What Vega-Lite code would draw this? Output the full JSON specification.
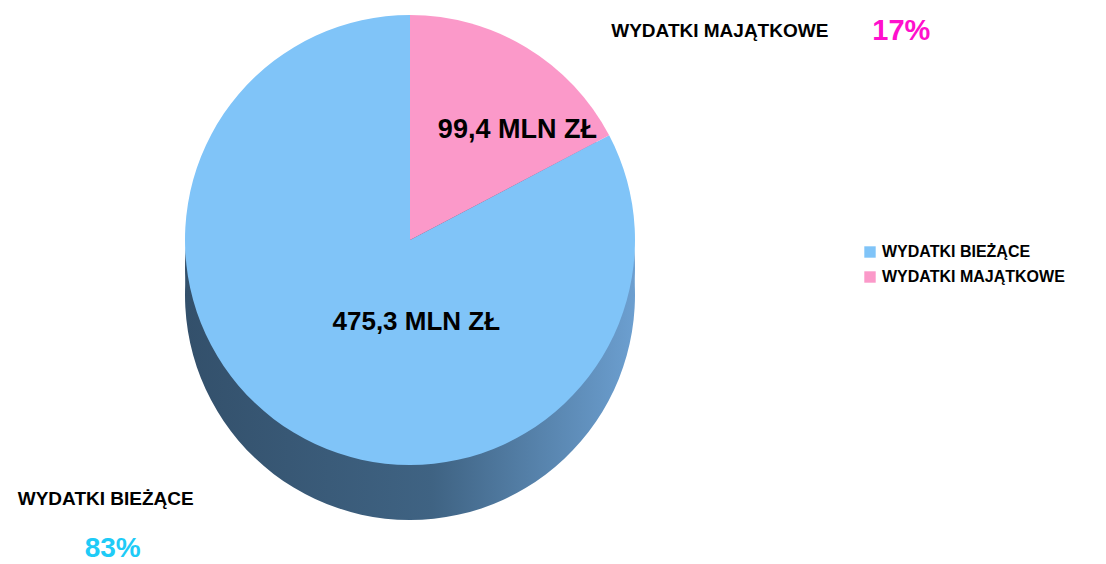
{
  "$schema": "https://vega.github.io/schema/vega-lite/v6.json",
  "width": 820,
  "height": 480,
  "padding": 0,
  "autosize": {"type": "pad"},
  "background": "white",
  "config": {"view": {"stroke": null}, "font": "Liberation Sans"},
  "data": {
    "values": [
      {"kategoria": "WYDATKI BIEŻĄCE", "wartosc": 475.3, "udzial": 0.83},
      {"kategoria": "WYDATKI MAJĄTKOWE", "wartosc": 99.4, "udzial": 0.17}
    ]
  },
  "transform": [
    {"calculate": "replace(format(datum.wartosc, '.1f'), '.', ',') + ' MLN ZŁ'", "as": "etykieta"},
    {"calculate": "datum.kategoria == 'WYDATKI MAJĄTKOWE' ? datum.kategoria : ''", "as": "nazwaM"},
    {"calculate": "datum.kategoria == 'WYDATKI BIEŻĄCE' ? datum.kategoria : ''", "as": "nazwaB"},
    {"calculate": "datum.kategoria == 'WYDATKI MAJĄTKOWE' ? format(datum.udzial, '.0%') : ''", "as": "procM"},
    {"calculate": "datum.kategoria == 'WYDATKI BIEŻĄCE' ? format(datum.udzial, '.0%') : ''", "as": "procB"},
    {"calculate": "datum.kategoria == 'WYDATKI MAJĄTKOWE' ? datum.etykieta : ''", "as": "etyM"},
    {"calculate": "datum.kategoria == 'WYDATKI BIEŻĄCE' ? datum.etykieta : ''", "as": "etyB"}
  ],
  "encoding": {
    "theta": {"field": "wartosc", "type": "quantitative", "stack": true},
    "order": {"field": "wartosc", "sort": "ascending"}
  },
  "layer": [
    {
      "mark": {"type": "arc", "outerRadius": 225, "yOffset": 55,
        "color": {"gradient": "linear", "x1": 0, "y1": 0, "x2": 1, "y2": 0,
          "stops": [{"offset": 0, "color": "#33506b"}, {"offset": 0.55, "color": "#3f6383"}, {"offset": 1, "color": "#6c9fd0"}]}}
    },
    {
      "mark": {"type": "arc", "outerRadius": 225, "yOffset": 28,
        "color": {"gradient": "linear", "x1": 0, "y1": 0, "x2": 1, "y2": 0,
          "stops": [{"offset": 0, "color": "#33506b"}, {"offset": 0.55, "color": "#3f6383"}, {"offset": 1, "color": "#6c9fd0"}]}}
    },
    {
      "mark": {"type": "arc", "outerRadius": 225, "strokeWidth": 0},
      "encoding": {
        "color": {
          "field": "kategoria", "type": "nominal",
          "scale": {"domain": ["WYDATKI BIEŻĄCE", "WYDATKI MAJĄTKOWE"], "range": ["#80c4f8", "#fb99c9"]},
          "legend": {"orient": "none", "legendX": 862, "legendY": 244, "title": null,
            "symbolType": "square", "symbolSize": 130, "symbolStrokeWidth": 0,
            "labelFont": "Liberation Sans", "labelFontWeight": "bold", "labelFontSize": 16,
            "labelColor": "#000000", "rowPadding": 9, "labelOffset": 4, "labelLimit": 400}
        }
      }
    },
    {
      "mark": {"type": "text", "radius": 140, "dx": 35, "dy": 10, "fontSize": 27, "fontWeight": "bold", "color": "#000000", "baseline": "middle", "align": "center"},
      "encoding": {"text": {"field": "etyM"}}
    },
    {
      "mark": {"type": "text", "radius": 100, "dx": 58, "dy": -4, "fontSize": 26, "fontWeight": "bold", "color": "#000000", "baseline": "middle", "align": "center"},
      "encoding": {"text": {"field": "etyB"}}
    },
    {
      "mark": {"type": "text", "radius": 250, "dx": 72, "dy": 5, "fontSize": 19, "fontWeight": "bold", "color": "#000000", "baseline": "middle", "align": "left"},
      "encoding": {"text": {"field": "nazwaM"}}
    },
    {
      "mark": {"type": "text", "radius": 250, "dx": 333, "dy": 5, "fontSize": 29, "fontWeight": "bold", "color": "#ff10cc", "baseline": "middle", "align": "left"},
      "encoding": {"text": {"field": "procM"}}
    },
    {
      "mark": {"type": "text", "radius": 250, "dx": -263, "dy": 45, "fontSize": 19, "fontWeight": "bold", "color": "#000000", "baseline": "middle", "align": "left"},
      "encoding": {"text": {"field": "nazwaB"}}
    },
    {
      "mark": {"type": "text", "radius": 250, "dx": -168, "dy": 95, "fontSize": 28, "fontWeight": "bold", "color": "#1ecbf7", "baseline": "middle", "align": "center"},
      "encoding": {"text": {"field": "procB"}}
    }
  ]
}
